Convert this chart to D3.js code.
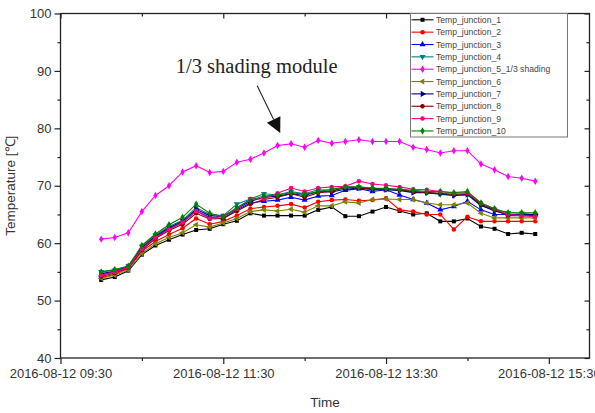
<!DOCTYPE html>
<html><head><meta charset="utf-8">
<script src="https://cdn.jsdelivr.net/npm/d3@7"></script>
<style>body{margin:0;background:#fff;} svg{display:block;font-family:"Liberation Sans",Arial,sans-serif;}</style>
</head><body><svg id="c" width="595" height="413"></svg>
<script>
// ---- data ----
const day = "2016-08-12";
const times = ["10:00","10:10","10:20","10:30","10:40","10:50","11:00","11:10","11:20","11:30","11:40",
  "11:50","12:00","12:10","12:20","12:30","12:40","12:50","13:00","13:10","13:20","13:30",
  "13:40","13:50","14:00","14:10","14:20","14:30","14:40","14:50","15:00","15:10","15:20"];
const seriesNames = ["Temp_junction_1","Temp_junction_2","Temp_junction_3","Temp_junction_4",
  "Temp_junction_5_1/3 shading","Temp_junction_6","Temp_junction_7","Temp_junction_8",
  "Temp_junction_9","Temp_junction_10"];
const j1 = [53.6,54.1,55.2,58.0,59.6,60.6,61.5,62.3,62.5,63.3,63.9,65.2,64.8,64.8,64.8,64.8,65.8,66.3,64.7,64.7,65.5,66.3,65.6,65.0,65.2,63.8,63.8,64.3,62.9,62.5,61.6,61.8,61.6];
const j2 = [54.0,54.6,55.6,58.6,60.3,61.5,62.6,64.3,63.3,63.8,64.8,66.0,66.3,66.5,66.8,66.2,67.2,67.5,67.6,67.4,67.5,67.8,65.8,65.5,65.0,65.0,62.4,64.6,63.8,63.8,63.8,63.8,63.8];
const j3 = [54.5,55.0,55.8,59.0,61.0,62.5,63.6,65.6,64.5,64.3,65.8,67.0,67.3,67.5,68.0,67.5,68.2,68.3,69.2,69.5,69.0,69.3,68.4,67.6,67.0,65.8,66.4,67.3,65.8,65.0,65.0,65.0,65.0];
const j4 = [55.0,55.3,56.0,59.4,61.4,62.9,64.0,66.2,65.0,64.8,66.8,67.7,68.6,68.4,69.0,68.6,69.3,69.2,69.6,69.8,69.4,69.4,69.2,69.0,68.8,68.5,68.3,68.4,66.5,65.8,65.3,65.2,65.0];
const j5 = [60.7,61.0,61.8,65.5,68.3,70.0,72.4,73.5,72.3,72.5,74.1,74.6,75.7,77.0,77.3,76.7,77.9,77.4,77.7,78.0,77.7,77.7,77.7,76.7,76.3,75.7,76.1,76.1,73.8,72.8,71.6,71.3,70.8];
const j6 = [53.9,54.4,55.3,58.2,59.9,61.0,61.8,63.2,62.8,63.5,64.3,65.5,65.8,65.6,65.9,65.4,66.5,66.5,67.2,67.0,67.6,67.7,67.6,67.6,67.0,66.7,66.7,67.0,65.2,64.4,64.4,64.4,64.4];
const j7 = [54.7,55.1,55.9,59.2,61.2,62.7,63.8,65.9,64.8,64.6,66.0,67.3,68.0,68.2,68.6,68.3,69.0,68.9,69.4,69.6,69.3,69.3,69.2,68.8,68.8,68.6,68.3,68.5,66.6,65.6,65.0,65.0,65.0];
const j8 = [54.2,54.8,55.7,58.8,60.8,62.2,63.3,65.2,64.2,64.3,65.6,66.8,67.6,68.0,68.6,68.0,68.8,69.0,69.8,69.6,69.5,69.5,69.3,69.0,68.8,68.7,68.5,68.6,66.8,65.8,64.8,64.8,64.8];
const j9 = [54.4,55.0,55.8,59.0,61.0,62.4,63.6,65.6,64.3,64.7,66.0,67.7,67.7,68.7,69.6,69.0,69.6,69.8,69.9,70.8,70.3,70.1,69.8,69.4,69.3,69.0,68.7,68.8,67.0,66.0,65.0,64.8,64.6];
const j10 = [55.0,55.4,56.0,59.6,61.6,63.2,64.5,66.8,65.2,64.6,66.2,67.5,68.2,68.4,68.8,68.5,69.0,69.4,69.8,69.8,69.6,69.5,69.4,69.2,69.0,69.0,68.8,69.0,67.0,66.0,65.3,65.3,65.3];
const seriesValues = [j1,j2,j3,j4,j5,j6,j7,j8,j9,j10];
const seriesColors = ["#000000","#ff0000","#0000ff","#008080","#ff00ff","#808000","#000080","#800000","#ff0080","#008000"];
const seriesSymbols = ["square","circle","up","down","diamond","left","right","circle","circle","diamond"];
const yTicks = [40,50,60,70,80,90,100];
const yMinorTicks = [45,55,65,75,85,95];
const xTickTimes = ["09:30","11:30","13:30","15:30"];
const xMinorTimes = ["10:30","12:30","14:30"];
const xDomain = ["09:30","16:00"];
const yDomain = [40,100];
const annotationText = "1/3 shading module";

// ---- setup ----
const parse = d3.timeParse("%Y-%m-%d %H:%M");
const T = s => parse(day + " " + s);
const svg = d3.select("#c");
const L = 60.5, R = 589.5, TOP = 13.5, B = 358;
const x = d3.scaleTime().domain(xDomain.map(T)).range([L, R]);
const y = d3.scaleLinear().domain(yDomain).range([B, TOP]);
const ink = "#333";

// frame
svg.append("rect").attr("x", L).attr("y", TOP).attr("width", R - L).attr("height", B - TOP)
  .attr("fill", "none").attr("stroke", "#222").attr("stroke-width", 1.3);

// bottom axis
const fmt = d3.timeFormat("%Y-%m-%d %H:%M");
const gx = svg.append("g").attr("transform", `translate(0,${B})`)
  .call(d3.axisBottom(x).tickValues(xTickTimes.map(T)).tickFormat(fmt).tickSize(6).tickPadding(5));
gx.select(".domain").remove();
gx.selectAll("line").attr("stroke", "#222").attr("stroke-width", 1.2);
gx.selectAll("text").attr("font-size", 13).attr("fill", ink).attr("font-family", "Liberation Sans, Arial, sans-serif");
const gxm = svg.append("g").attr("transform", `translate(0,${B})`)
  .call(d3.axisBottom(x).tickValues(xMinorTimes.map(T)).tickFormat("").tickSize(3));
gxm.select(".domain").remove();
gxm.selectAll("line").attr("stroke", "#222").attr("stroke-width", 1.2);
// top axis (inward)
const gt = svg.append("g").attr("transform", `translate(0,${TOP})`)
  .call(d3.axisBottom(x).tickValues(xTickTimes.map(T)).tickFormat("").tickSize(5));
gt.select(".domain").remove(); gt.selectAll("line").attr("stroke", "#222").attr("stroke-width", 1.2);
const gtm = svg.append("g").attr("transform", `translate(0,${TOP})`)
  .call(d3.axisBottom(x).tickValues(xMinorTimes.map(T)).tickFormat("").tickSize(3));
gtm.select(".domain").remove(); gtm.selectAll("line").attr("stroke", "#222").attr("stroke-width", 1.2);

// left axis
const gy = svg.append("g").attr("transform", `translate(${L},0)`)
  .call(d3.axisLeft(y).tickValues(yTicks).tickSize(6).tickPadding(3));
gy.select(".domain").remove();
gy.selectAll("line").attr("stroke", "#222").attr("stroke-width", 1.2);
gy.selectAll("text").attr("font-size", 13).attr("fill", ink).attr("font-family", "Liberation Sans, Arial, sans-serif");
const gym = svg.append("g").attr("transform", `translate(${L},0)`)
  .call(d3.axisLeft(y).tickValues(yMinorTicks).tickFormat("").tickSize(3));
gym.select(".domain").remove(); gym.selectAll("line").attr("stroke", "#222").attr("stroke-width", 1.2);
// right axis (inward)
const gr = svg.append("g").attr("transform", `translate(${R},0)`)
  .call(d3.axisLeft(y).tickValues(yTicks).tickFormat("").tickSize(5));
gr.select(".domain").remove(); gr.selectAll("line").attr("stroke", "#222").attr("stroke-width", 1.2);
const grm = svg.append("g").attr("transform", `translate(${R},0)`)
  .call(d3.axisLeft(y).tickValues(yMinorTicks).tickFormat("").tickSize(3));
grm.select(".domain").remove(); grm.selectAll("line").attr("stroke", "#222").attr("stroke-width", 1.2);

// axis titles
svg.append("text").attr("x", (L + R) / 2 + 0).attr("y", 407).attr("text-anchor", "middle")
  .attr("font-size", 13.5).attr("fill", ink).text("Time");
svg.append("text").attr("transform", `translate(15,${(TOP + B) / 2}) rotate(-90)`)
  .attr("text-anchor", "middle").attr("font-size", 13.5).attr("fill", ink).text("Temperature [℃]");

// symbols
function symPath(kind, size) {
  const map = {square: d3.symbolSquare, circle: d3.symbolCircle, up: d3.symbolTriangle,
    down: d3.symbolTriangle, left: d3.symbolTriangle, right: d3.symbolTriangle, diamond: d3.symbolDiamond};
  return d3.symbol().type(map[kind]).size(size)();
}
const rot = {up: 0, down: 180, left: -90, right: 90};

const line = d3.line().x((d, i) => x(T(times[i]))).y(d => y(d));
seriesValues.forEach((vals, k) => {
  const g = svg.append("g");
  g.append("path").attr("d", line(vals)).attr("fill", "none")
    .attr("stroke", seriesColors[k]).attr("stroke-width", 1.1);
  g.selectAll("path.m").data(vals).enter().append("path").attr("class", "m")
    .attr("d", symPath(seriesSymbols[k], 16))
    .attr("transform", (d, i) => `translate(${x(T(times[i]))},${y(d)}) rotate(${rot[seriesSymbols[k]] || 0})`)
    .attr("fill", seriesColors[k]);
});

// legend
const lg = svg.append("g");
const lx = 410.5, ly = TOP, lw = 157, lh = 123.5;
lg.append("rect").attr("x", lx).attr("y", ly).attr("width", lw).attr("height", lh)
  .attr("fill", "#fff").attr("stroke", "#777").attr("stroke-width", 1);
seriesNames.forEach((n, k) => {
  const yy = ly + 6.3 + k * 12.35;
  lg.append("line").attr("x1", lx + 1).attr("x2", lx + 23).attr("y1", yy).attr("y2", yy)
    .attr("stroke", seriesColors[k]).attr("stroke-width", 1.1);
  lg.append("path").attr("d", symPath(seriesSymbols[k], 16))
    .attr("transform", `translate(${lx + 12},${yy}) rotate(${rot[seriesSymbols[k]] || 0})`)
    .attr("fill", seriesColors[k]);
  lg.append("text").attr("x", lx + 25.5).attr("y", yy + 3).attr("font-size", 8.6)
    .attr("fill", "#444").text(n);
});

// annotation
const tip = [x(T("12:12")), y(79.2)];
const start = [x(T("11:55")), y(87.4)];
const dx = tip[0] - start[0], dy = tip[1] - start[1], len = Math.hypot(dx, dy);
const ux = dx / len, uy = dy / len, hl = 15, hw = 7.5;
const bc = [tip[0] - ux * hl, tip[1] - uy * hl];
svg.append("line").attr("x1", start[0]).attr("y1", start[1]).attr("x2", bc[0]).attr("y2", bc[1])
  .attr("stroke", "#222").attr("stroke-width", 1.1);
svg.append("path").attr("d", `M${tip[0]},${tip[1]}L${bc[0] - uy * hw},${bc[1] + ux * hw}L${bc[0] + uy * hw},${bc[1] - ux * hw}Z`)
  .attr("fill", "#111");
svg.append("text").attr("x", x(T("10:55"))).attr("y", y(89.6))
  .attr("font-family", "Liberation Serif, Times New Roman, serif").attr("font-size", 20.5)
  .attr("fill", "#222").text(annotationText);
</script></body></html>
